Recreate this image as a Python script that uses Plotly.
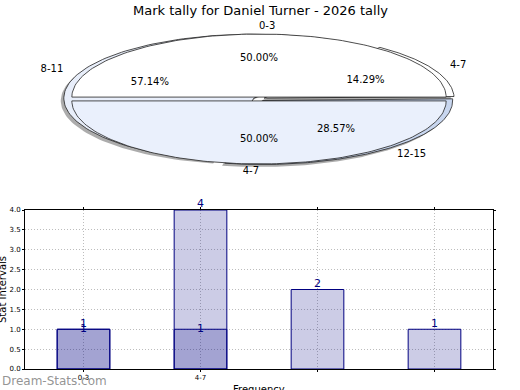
import numpy as np
import plotly.graph_objects as go

# ---------------- data ----------------
title_text = "Mark tally for Daniel Turner - 2026 tally"

# front pie
pie1_labels = ["0-3", "4-7"]
pie1_values = [1, 1]
pie1_colors = ["#ffffff", "#eaf0fc"]

# back pie
pie2_labels = ["8-11", "4-7", "12-15"]
pie2_values = [4, 1, 2]
pie2_colors = ["#e8eefa", "#ffffff", "#c8d6ef"]

# bar chart
categories = ["0-3", "4-7", "8-11", "12-15"]
tick_labels = ["0-3", "4-7", "", ""]
series_a = [1, 1, None, None]
series_b = [1, 4, 2, 1]
y_ticks = [0.0, 0.5, 1.0, 1.5, 2.0, 2.5, 3.0, 3.5, 4.0]

FONT = "DejaVu Sans"
fig = go.Figure()


def add_pie(labels, values, colors, start, clockwise, r, explode, shadow=False):
    total = float(sum(values))
    cum = 0.0
    out = []
    for lab, v, col in zip(labels, values, colors):
        frac = v / total
        if clockwise:
            t1 = start - cum * 360
            t2 = t1 - frac * 360
        else:
            t1 = start + cum * 360
            t2 = t1 + frac * 360
        cum += frac
        mid = np.radians((t1 + t2) / 2)
        ox, oy = explode * np.cos(mid), explode * np.sin(mid)
        th = np.radians(np.linspace(t1, t2, 120))
        xs = np.concatenate([[ox], ox + r * np.cos(th), [ox]])
        ys = np.concatenate([[oy], oy + r * np.sin(th), [oy]])
        if shadow:
            fig.add_trace(go.Scatter(x=xs - 0.016, y=ys - 0.04, xaxis="x2", yaxis="y2",
                                     mode="lines", fill="toself",
                                     fillcolor="rgba(90,90,90,0.5)",
                                     line=dict(width=0), hoverinfo="skip", showlegend=False))
        out.append((lab, v, frac, mid, xs, ys, col, ox, oy))
    return out


pie2 = add_pie(pie2_labels, pie2_values, pie2_colors, 258.6, True, 1.0, 0.03, shadow=True)
for lab, v, frac, mid, xs, ys, col, ox, oy in pie2:
    fig.add_trace(go.Scatter(x=xs, y=ys, xaxis="x2", yaxis="y2", mode="lines",
                             fill="toself", fillcolor=col,
                             line=dict(color="#222222", width=0.8),
                             hoverinfo="skip", showlegend=False))

pie1 = add_pie(pie1_labels, pie1_values, pie1_colors, 0, False, 0.985, 0.03)
for lab, v, frac, mid, xs, ys, col, ox, oy in pie1:
    fig.add_trace(go.Scatter(x=xs, y=ys, xaxis="x2", yaxis="y2", mode="lines",
                             fill="toself", fillcolor=col,
                             line=dict(color="#222222", width=0.8),
                             hoverinfo="skip", showlegend=False))

# labels and percentages
for group in (pie1, pie2):
    for lab, v, frac, mid, xs, ys, col, ox, oy in group:
        cx, cy = np.cos(mid), np.sin(mid)
        fig.add_trace(go.Scatter(x=[0.6 * cx + ox], y=[0.6 * cy + oy], xaxis="x2", yaxis="y2",
                                 mode="text", text=["%.2f%%" % (frac * 100)],
                                 textposition="middle center",
                                 textfont=dict(family=FONT, size=10, color="black"),
                                 hoverinfo="skip", showlegend=False))
        fig.add_trace(go.Scatter(x=[1.1 * cx + ox], y=[1.1 * cy + oy], xaxis="x2", yaxis="y2",
                                 mode="text", text=[lab],
                                 textposition="middle right" if cx > 0 else "middle left",
                                 textfont=dict(family=FONT, size=10, color="black"),
                                 hoverinfo="skip", showlegend=False))

# ---------------- bars ----------------
bar_fill = "rgba(0,0,128,0.2)"
for vals in (series_a, series_b):
    fig.add_trace(go.Bar(x=categories, y=vals, width=0.45, marker=dict(
        color=bar_fill, line=dict(color="#000080", width=1)),
        hoverinfo="skip", showlegend=False))

fig.add_trace(go.Scatter(x=categories, y=series_a, mode="text",
                         text=[str(v) if v is not None else "" for v in series_a],
                         textposition="middle center", cliponaxis=False,
                         textfont=dict(family=FONT, size=11, color="#000080"),
                         hoverinfo="skip", showlegend=False))
fig.add_trace(go.Scatter(x=categories, y=series_b, mode="text",
                         text=[str(v) for v in series_b],
                         textposition="top center", cliponaxis=False,
                         textfont=dict(family=FONT, size=11, color="#000080"),
                         hoverinfo="skip", showlegend=False))

grid_dash = "1px,2px"
fig.update_layout(
    template="none",
    width=520, height=390,
    margin=dict(l=0, r=0, t=0, b=0, pad=0),
    paper_bgcolor="white", plot_bgcolor="white",
    barmode="overlay",
    showlegend=False,
    font=dict(family=FONT, color="black"),
    xaxis=dict(domain=[25 / 520, 493 / 520], type="category", automargin=False,
               categoryorder="array", categoryarray=categories,
               range=[-0.5, 3.5],
               tickmode="array", tickvals=categories, ticktext=tick_labels,
               tickfont=dict(size=7), ticks="outside", ticklen=2, tickcolor="black",
               showgrid=True, gridcolor="#bdbdbd", griddash=grid_dash, gridwidth=1,
               showline=True, linecolor="black", linewidth=1, mirror="ticks",
               zeroline=False, fixedrange=True),
    yaxis=dict(domain=[21 / 390, 180 / 390], range=[0, 4], automargin=False,
               tickmode="array", tickvals=y_ticks,
               ticktext=["%.1f" % t for t in y_ticks],
               tickfont=dict(size=7), ticks="outside", ticklen=2, tickcolor="black",
               showgrid=True, gridcolor="#bdbdbd", griddash=grid_dash, gridwidth=1,
               showline=True, linecolor="black", linewidth=1, mirror="ticks",
               zeroline=False, fixedrange=True),
    xaxis2=dict(domain=[0, 1], range=[-259 / 190, 261 / 190], visible=False,
                anchor="y2", fixedrange=True, automargin=False),
    yaxis2=dict(domain=[0.5, 1.0], range=[-96 / 64, 99 / 64], visible=False,
                anchor="x2", fixedrange=True, automargin=False),
    annotations=[
        dict(text=title_text, x=0.5, y=1 - 10 / 390, xref="paper", yref="paper",
             showarrow=False, font=dict(size=13, family=FONT), xanchor="center", yanchor="middle"),
        dict(text="Frequency", x=259 / 520, y=1 - 389 / 390, xref="paper", yref="paper",
             showarrow=False, font=dict(size=10, family=FONT), xanchor="center", yanchor="middle"),
        dict(text="Stat Intervals", x=2 / 520, y=1 - 290 / 390, xref="paper", yref="paper",
             showarrow=False, textangle=-90, font=dict(size=10, family=FONT),
             xanchor="center", yanchor="middle"),
        dict(text="Dream-Stats.com", x=0, y=1 - 381 / 390, xref="paper", yref="paper",
             showarrow=False, font=dict(size=12, family=FONT, color="rgba(120,120,120,0.8)"),
             xanchor="left", yanchor="middle"),
    ],
)

fig.write_html("out.html", config={"displayModeBar": False},
               post_script="document.body.style.margin='0';document.body.style.overflow='hidden';")
